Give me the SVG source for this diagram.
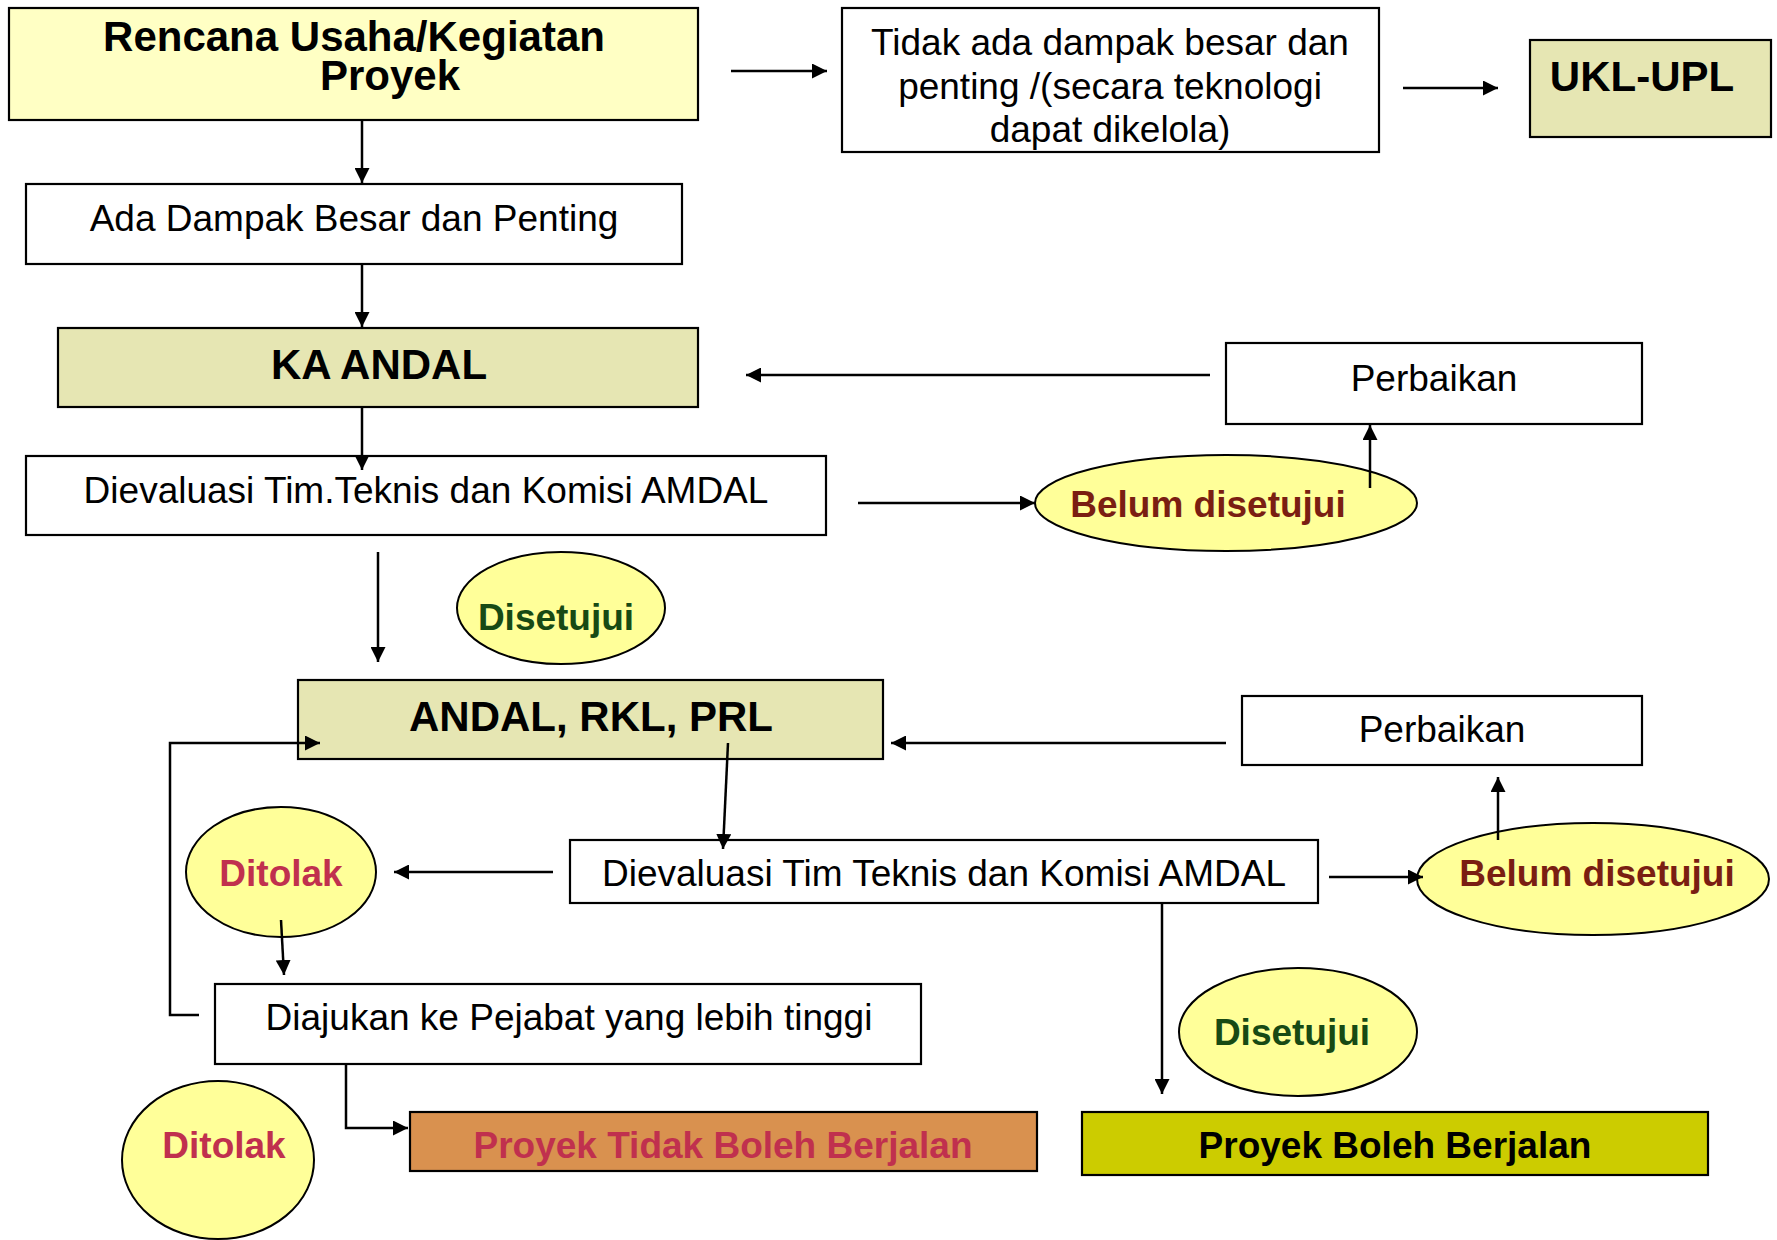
<svg xmlns="http://www.w3.org/2000/svg" width="1777" height="1240" viewBox="0 0 1777 1240">
<defs>
<marker id="ah" viewBox="0 0 10 10" refX="10" refY="5" markerWidth="15" markerHeight="15" markerUnits="userSpaceOnUse" orient="auto"><path d="M0,0 L10,5 L0,10 z" fill="#000"/></marker>
</defs>
<style>
.box{stroke:#000;stroke-width:2.2}
.w{fill:#fff}
.ly{fill:#FFFFC4}
.ol{fill:#E6E6B3}
.el{fill:#FFFF99;stroke:#000;stroke-width:2}
.t{font-family:"Liberation Sans",Arial,sans-serif;font-size:37px;fill:#000;text-anchor:middle}
.b{font-weight:bold}
.big{font-size:42px}
.red{fill:#7A1E12}
.grn{fill:#174A14}
.pink{fill:#C0304E}
.c{fill:none;stroke:#000;stroke-width:2.5}
</style>
<rect width="1777" height="1240" fill="#fff"/>
<g id="n-rencana">
<rect class="box ly" x="9" y="8" width="689" height="112"/>
<text class="t b big" x="354" y="51">Rencana Usaha/Kegiatan</text>
<text class="t b big" x="390" y="90">Proyek</text>
</g>
<g id="n-tidak">
<rect class="box w" x="842" y="8" width="537" height="144"/>
<text class="t" x="1110" y="55">Tidak ada dampak besar dan</text>
<text class="t" x="1110" y="99">penting /(secara teknologi</text>
<text class="t" x="1110" y="142">dapat dikelola)</text>
</g>
<g id="n-ukl">
<rect class="box ol" x="1530" y="40" width="241" height="97"/>
<text class="t b big" x="1642" y="91">UKL-UPL</text>
</g>
<g id="n-ada">
<rect class="box w" x="26" y="184" width="656" height="80"/>
<text class="t" x="354" y="231">Ada Dampak Besar dan Penting</text>
</g>
<g id="n-kaandal">
<rect class="box ol" x="58" y="328" width="640" height="79"/>
<text class="t b big" x="379" y="379">KA ANDAL</text>
</g>
<g id="n-perbaikan1">
<rect class="box w" x="1226" y="343" width="416" height="81"/>
<text class="t" x="1434" y="391">Perbaikan</text>
</g>
<g id="n-dievaluasi1">
<rect class="box w" x="26" y="456" width="800" height="79"/>
<text class="t" x="426" y="503">Dievaluasi Tim.Teknis dan Komisi AMDAL</text>
</g>
<g id="n-belum1">
<ellipse class="el" cx="1226" cy="503" rx="191" ry="48"/>
<text class="t b red" x="1208" y="517">Belum disetujui</text>
</g>
<g id="n-disetujui1">
<ellipse class="el" cx="561" cy="608" rx="104" ry="56"/>
<text class="t b grn" x="556" y="630">Disetujui</text>
</g>
<g id="n-andal">
<rect class="box ol" x="298" y="680" width="585" height="79"/>
<text class="t b big" x="591" y="731">ANDAL, RKL, PRL</text>
</g>
<g id="n-perbaikan2">
<rect class="box w" x="1242" y="696" width="400" height="69"/>
<text class="t" x="1442" y="742">Perbaikan</text>
</g>
<g id="n-dievaluasi2">
<rect class="box w" x="570" y="840" width="748" height="63"/>
<text class="t" x="944" y="886">Dievaluasi Tim Teknis dan Komisi AMDAL</text>
</g>
<g id="n-ditolak1">
<ellipse class="el" cx="281" cy="872" rx="95" ry="65"/>
<text class="t b pink" x="281" y="886">Ditolak</text>
</g>
<g id="n-belum2">
<ellipse class="el" cx="1593" cy="879" rx="176" ry="56"/>
<text class="t b red" x="1597" y="886">Belum disetujui</text>
</g>
<g id="n-diajukan">
<rect class="box w" x="215" y="984" width="706" height="80"/>
<text class="t" x="569" y="1030">Diajukan ke Pejabat yang lebih tinggi</text>
</g>
<g id="n-disetujui2">
<ellipse class="el" cx="1298" cy="1032" rx="119" ry="64"/>
<text class="t b grn" x="1292" y="1045">Disetujui</text>
</g>
<g id="n-ditolak2">
<ellipse class="el" cx="218" cy="1160" rx="96" ry="79"/>
<text class="t b pink" x="224" y="1158">Ditolak</text>
</g>
<g id="n-tidakboleh">
<rect class="box" fill="#D9914F" x="410" y="1112" width="627" height="59"/>
<text class="t b pink" x="723" y="1158">Proyek Tidak Boleh Berjalan</text>
</g>
<g id="n-boleh">
<rect class="box" fill="#CCCC00" x="1082" y="1112" width="626" height="63"/>
<text class="t b" x="1395" y="1158">Proyek Boleh Berjalan</text>
</g>
<g id="connectors">
<line class="c" x1="731" y1="71" x2="827" y2="71" marker-end="url(#ah)"/>
<line class="c" x1="1403" y1="88" x2="1498" y2="88" marker-end="url(#ah)"/>
<line class="c" x1="362" y1="120" x2="362" y2="183" marker-end="url(#ah)"/>
<line class="c" x1="362" y1="264" x2="362" y2="327" marker-end="url(#ah)"/>
<line class="c" x1="1210" y1="375" x2="746" y2="375" marker-end="url(#ah)"/>
<line class="c" x1="362" y1="407" x2="362" y2="470" marker-end="url(#ah)"/>
<line class="c" x1="858" y1="503" x2="1035" y2="503" marker-end="url(#ah)"/>
<line class="c" x1="1370" y1="488" x2="1370" y2="425" marker-end="url(#ah)"/>
<line class="c" x1="378" y1="552" x2="378" y2="662" marker-end="url(#ah)"/>
<line class="c" x1="1226" y1="743" x2="891" y2="743" marker-end="url(#ah)"/>
<line class="c" x1="728" y1="743" x2="723" y2="849" marker-end="url(#ah)"/>
<line class="c" x1="553" y1="872" x2="394" y2="872" marker-end="url(#ah)"/>
<line class="c" x1="281" y1="920" x2="284" y2="975" marker-end="url(#ah)"/>
<line class="c" x1="1329" y1="877" x2="1423" y2="877" marker-end="url(#ah)"/>
<line class="c" x1="1498" y1="840" x2="1498" y2="777" marker-end="url(#ah)"/>
<line class="c" x1="1162" y1="903" x2="1162" y2="1094" marker-end="url(#ah)"/>
<polyline class="c" points="199,1015 170,1015 170,743 320,743" marker-end="url(#ah)"/>
<polyline class="c" points="346,1064 346,1128 408,1128" marker-end="url(#ah)"/>
</g>
</svg>
